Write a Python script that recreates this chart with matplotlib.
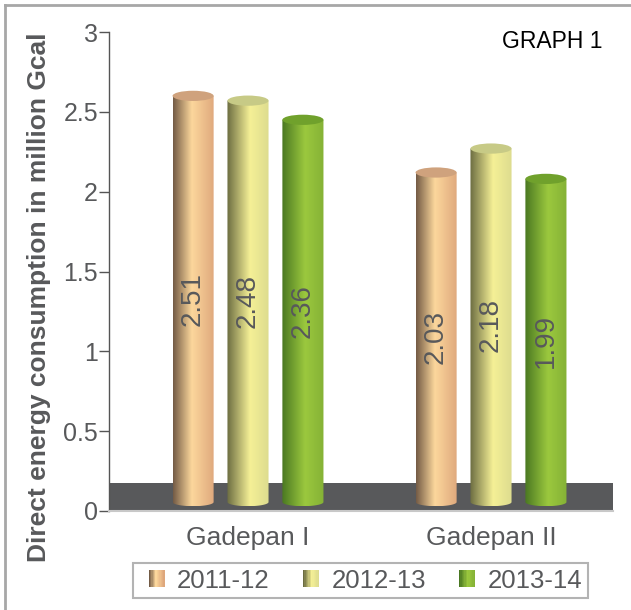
import numpy as np
import matplotlib
matplotlib.use("Agg")
import matplotlib.pyplot as plt
from matplotlib.patches import Rectangle, Ellipse, PathPatch
from matplotlib.path import Path
from matplotlib.lines import Line2D
from matplotlib.legend_handler import HandlerBase

plt.rcParams["font.family"] = ["Liberation Sans", "DejaVu Sans"]

# Data
plants  = ["Gadepan I", "Gadepan II"]
years   = ["2011-12", "2012-13", "2013-14"]
fy2012  = [2.51, 2.03]
fy2013  = [2.48, 2.18]
fy2014  = [2.36, 1.99]
yticks  = [0, 0.5, 1, 1.5, 2, 2.5, 3]
ytick_labels = ["0", "0.5", "1", "1.5", "2", "2.5", "3"]

series = [fy2012, fy2013, fy2014]

# cylinder shading: (left shadow, highlight, right side), top cap, highlight position
shades = [
    (("#735b45", "#fcd79c", "#dea77c"), "#cfa27d", 0.45),
    (("#6b6c41", "#f5f096", "#dddc8f"), "#c7ca86", 0.55),
    (("#4a7822", "#9bc83e", "#85b236"), "#70a12c", 0.55),
]
GREY = "#58595b"

BAR_W   = 0.169   # cylinder width (group spacing = 1)
STEP    = 0.226
DEPTH   = 0.09    # 3d lift of the cylinder top
BASE    = 0.056   # where cylinders stand on the floor
FLOOR_H = 0.178
CAP_BOT = 0.026
CAP_TOP = 0.032


def gradient_row(stops, mid, n=200):
    rgb = np.array([matplotlib.colors.to_rgb(c) for c in stops])
    pos = [0.0, mid, 1.0]
    t = np.linspace(0, 1, n)
    row = np.stack([np.interp(t, pos, rgb[:, k]) for k in range(3)], axis=-1)
    return row[np.newaxis, :, :]


def draw_cylinder(ax, xc, value, stops, cap, mid):
    x0, x1 = xc - BAR_W / 2, xc + BAR_W / 2
    ytop = value + DEPTH
    th = np.linspace(np.pi, 2 * np.pi, 40)
    arc = np.column_stack([xc + BAR_W / 2 * np.cos(th), BASE + CAP_BOT * np.sin(th)])
    verts = np.vstack([[x0, ytop], arc, [x1, ytop], [x0, ytop]])
    codes = [Path.MOVETO] + [Path.LINETO] * (len(verts) - 2) + [Path.CLOSEPOLY]
    clip = PathPatch(Path(verts, codes), facecolor="none", edgecolor="none")
    ax.add_patch(clip)
    im = ax.imshow(gradient_row(stops, mid), extent=[x0, x1, BASE - CAP_BOT, ytop],
                   aspect="auto", interpolation="bilinear", zorder=3)
    im.set_clip_path(clip)
    ax.add_patch(Ellipse((xc, ytop), BAR_W, 2 * CAP_TOP, facecolor=cap,
                         edgecolor="none", zorder=4))
    ax.text(xc, (BASE + ytop) / 2, f"{value:.2f}", rotation=90, ha="center",
            va="center", color=GREY, fontsize=20, zorder=5)


class GradientHandler(HandlerBase):
    """Small shaded square, pushed to the right end of the handle box."""

    def __init__(self, stops, mid):
        super().__init__()
        self.stops, self.mid = stops, mid

    def create_artists(self, legend, orig_handle, xdescent, ydescent,
                       width, height, fontsize, trans):
        n = 12
        row = gradient_row(self.stops, self.mid, n)[0]
        w = 16 * 0.72          # ~16 px square
        h = 17 * 0.72
        x = -xdescent + width - w
        y = -ydescent + (height - h) / 2
        return [Rectangle((x + i * w / n, y), w / n + 0.05, h,
                          facecolor=row[i], edgecolor="none",
                          transform=trans) for i in range(n)]


fig = plt.figure(figsize=(6.31, 6.10), dpi=100)
ax = fig.add_axes([109 / 631, 99 / 610, 504 / 631, 479 / 610])
ax.set_xlim(-0.572, 1.502)
ax.set_ylim(0, 3)

# floor slab
ax.add_patch(Rectangle((-0.572, 0), 2.074, FLOOR_H, facecolor=GREY,
                       edgecolor="none", zorder=1))

centers = np.arange(len(plants))
for j, vals in enumerate(series):
    stops, cap, mid = shades[j]
    for i, v in enumerate(vals):
        draw_cylinder(ax, centers[i] + (j - 1) * STEP, v, stops, cap, mid)

for side in ["top", "right"]:
    ax.spines[side].set_visible(False)
ax.spines["left"].set_color("#555555")
ax.spines["left"].set_linewidth(1.0)
ax.spines["bottom"].set_color("#c8c8c8")
ax.spines["bottom"].set_linewidth(1.5)

ax.set_yticks(yticks)
ax.set_yticklabels(ytick_labels)
ax.tick_params(axis="y", length=7, width=1, color="#555555", pad=1,
               labelsize=18, labelcolor=GREY)
ax.set_xticks(centers)
ax.set_xticklabels(plants)
ax.tick_params(axis="x", length=0, pad=11, labelsize=19, labelcolor=GREY)

fig.text(39.5 / 631, 1 - 297 / 610, "Direct energy consumption in million Gcal",
         rotation=90, ha="center", va="center", fontsize=19, fontweight="bold",
         color=GREY)
fig.text(552 / 631, 1 - 42 / 610, "GRAPH 1", ha="center", va="center",
         fontsize=16.5, color="black")

handles = [Rectangle((0, 0), 1, 1) for _ in years]
leg = fig.legend(handles, years, ncol=3, loc="center",
                 bbox_to_anchor=(360.5 / 631, 1 - 580.5 / 610),
                 handler_map={h: GradientHandler(shades[k][0], shades[k][2])
                              for k, h in enumerate(handles)},
                 fontsize=18.5, frameon=True, fancybox=False, handlelength=1.0,
                 handleheight=0.8, handletextpad=0.48, columnspacing=0.92,
                 borderpad=0.22, borderaxespad=0)
for t in leg.get_texts():
    t.set_color(GREY)
leg.get_frame().set_edgecolor("#a0a0a0")
leg.get_frame().set_linewidth(1.5)

# outer frame
fig.add_artist(Line2D([5 / 631, 1], [1 - 5 / 610, 1 - 5 / 610], color="#a7a7a7",
                      lw=2, transform=fig.transFigure))
fig.add_artist(Line2D([5 / 631, 5 / 631], [0, 1 - 5 / 610], color="#a7a7a7",
                      lw=2, transform=fig.transFigure))

fig.savefig("out.png", dpi=100)
